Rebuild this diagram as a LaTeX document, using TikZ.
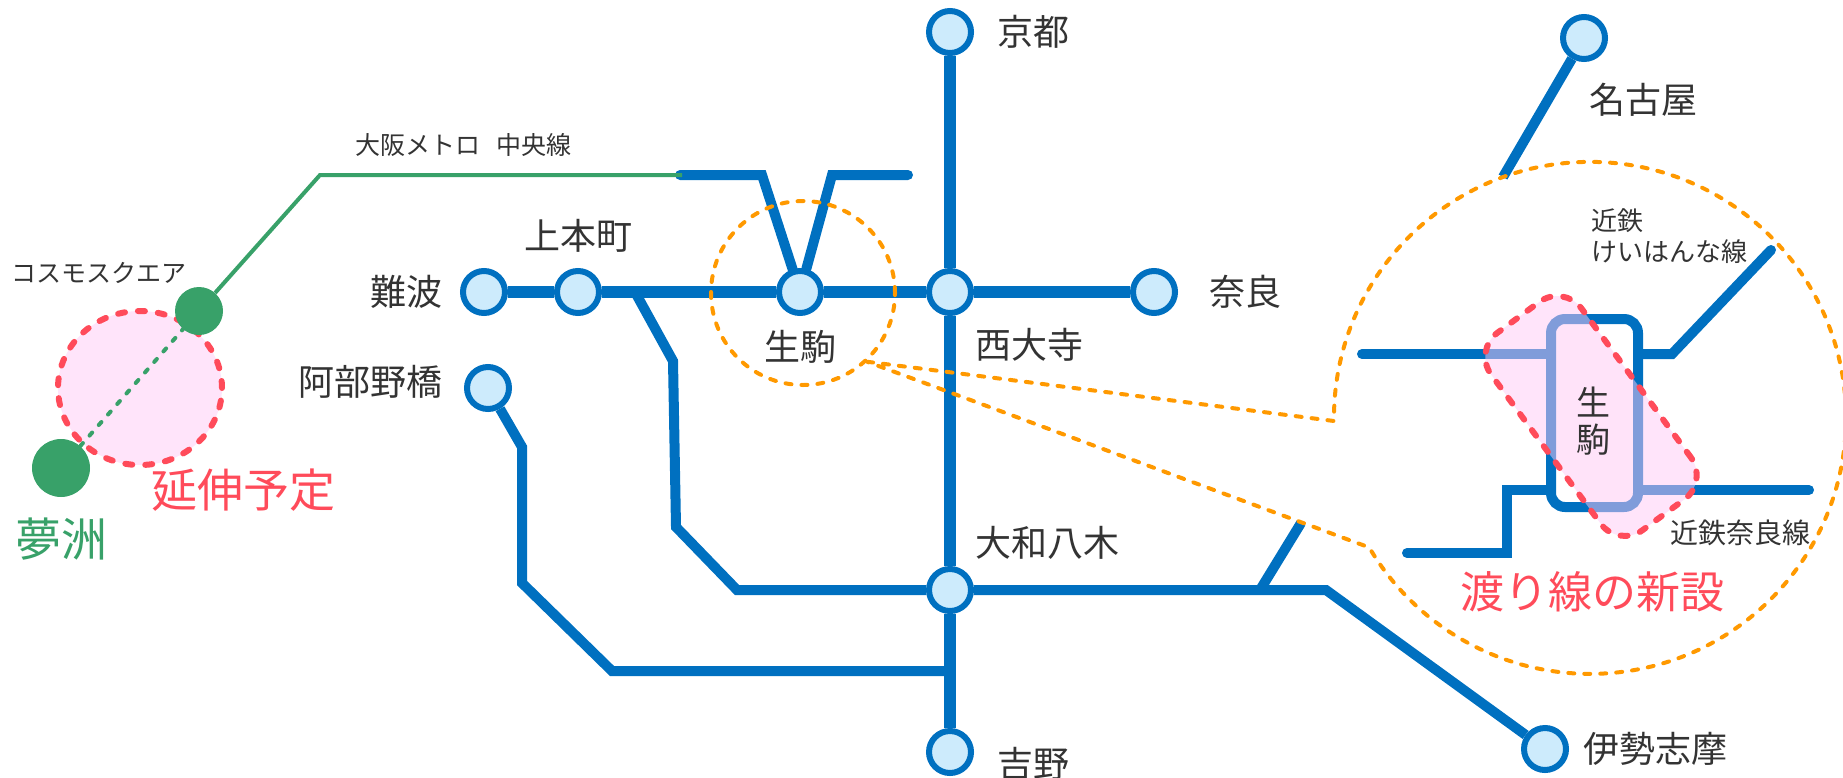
\documentclass[tikz,border=0pt]{standalone}
\usepackage{fontspec}
\setmainfont{Noto Sans CJK JP}
\usetikzlibrary{positioning,shapes.geometric}
\definecolor{metro}{RGB}{0,112,192}
\definecolor{stnfill}{RGB}{205,235,252}
\definecolor{ink}{RGB}{51,51,51}
\definecolor{chuo}{RGB}{56,161,105}
\definecolor{plan}{RGB}{255,75,90}
\definecolor{planfill}{RGB}{255,228,250}
\definecolor{crossfill}{RGB}{255,201,245}
\definecolor{zoomline}{RGB}{255,153,0}
\begin{document}
\begin{tikzpicture}[x=1pt, y=1pt,
    stn/.style={circle, draw=metro, fill=stnfill, line width=6pt, minimum size=42pt, inner sep=0pt},
    rail/.style={draw=metro, line width=10pt},
    mainrail/.style={draw=metro, line width=11.5pt},
    lbl/.style={text=ink, inner sep=0pt, font=\fontsize{36}{42}\selectfont},
    smalllbl/.style={text=ink, inner sep=0pt, font=\fontsize{25}{31}\selectfont, align=left},
    biglbl/.style={inner sep=0pt, font=\fontsize{46}{52}\selectfont},
    zoomed/.style={draw=zoomline, line width=4pt, line cap=round, dash pattern=on 6pt off 10pt},
    planned/.style={draw=plan, line width=6pt, line cap=round, dash pattern=on 7pt off 13pt}]
    \useasboundingbox (0,0) rectangle (1843,-777);
    \node(Kyo) [stn] at (950,-32) {};
    \node(Nam) [stn] at (484,-292) {};
    \node(Ue) [stn] at (578,-292) {};
    \node(Iko) [stn] at (800,-292) {};
    \node(Sai) [stn] at (950,-292) {};
    \node(Nar) [stn] at (1154,-292) {};
    \node(Abe) [stn] at (488,-388) {};
    \node(Yag) [stn] at (950,-590) {};
    \node(Yos) [stn] at (950,-752) {};
    \node(Nag) [stn] at (1584,-38) {};
    \node(Ise) [stn] at (1545,-749) {};
    \draw[mainrail] (Kyo) -- (Sai) -- (Yag) -- (Yos);
    \draw[mainrail] (Nam) -- (Ue) -- (Iko) -- (Sai) -- (Nar);
    \draw[rail] (635,-292) -- (673,-361) -- (676,-527) -- (737,-590) -- (Yag);
    \draw[rail] (Abe) -- (522,-447) -- (522,-583) -- (612,-671) -- (946,-671);
    \draw[rail] (Yag) -- (1326,-590) -- (Ise);
    \draw[rail] (1260,-590) -- (1301,-523);
    \draw[rail] (Nag) -- (1503,-177);
    \draw[rail, line cap=round] (680,-175) -- (762,-175) -- (Iko);
    \draw[rail, line cap=round] (Iko) -- (832,-175) -- (908,-175);
    \node(KyoL) [lbl, right=23pt of Kyo] {京都};
    \node(NamL) [lbl, left=17pt of Nam] {難波};
    \node(UeL) [lbl, above=15pt of Ue] {上本町};
    \node(IkoL) [lbl, below=14pt of Iko] {生駒};
    \node(SaiL) [lbl, below right=19pt and 8pt of Sai] {西大寺};
    \node(NarL) [lbl, right=31pt of Nar] {奈良};
    \node(AbeL) [lbl, left=21pt of Abe, yshift=6pt] {阿部野橋};
    \node(YagL) [lbl, above right=13pt and 8pt of Yag] {大和八木};
    \node(YosL) [lbl, right=23pt of Yos, yshift=-12pt] {吉野};
    \node(NagL) [lbl, anchor=west] at (1589,-100) {名古屋};
    \node(IseL) [lbl, right=14pt of Ise] {伊勢志摩};
    \node(Ext) [ellipse, fill=planfill, planned, minimum width=164pt, minimum height=154pt] at (140,-388) {};
    \node(Cos) [circle, fill=chuo, minimum size=48pt] at (199,-311) {};
    \node(Yum) [circle, fill=chuo, minimum size=58pt] at (61,-468) {};
    \draw[chuo, line width=4pt, line cap=round, dash pattern=on 4pt off 10pt] (Yum) -- (Cos);
    \draw[chuo, line width=4pt] (Cos) -- (320,-175) -- (682,-175);
    \node(ChuoL) [smalllbl, anchor=west] at (355,-145) {大阪メトロ\hspace{16pt}中央線};
    \node(CosL) [smalllbl, anchor=west] at (11,-273) {コスモスクエア};
    \node(YumL) [biglbl, text=chuo, below=20pt of Yum] {夢洲};
    \node(PlanL) [biglbl, text=plan, anchor=west] at (151,-490) {延伸予定};
    \node(Ring) [circle, zoomed, minimum size=184pt] at (803,-293) {};
    \draw[zoomed] (Ring.-47.6) -- (1334,-421) arc[start angle=180.7, end angle=-149.6, radius=256] -- cycle;
    \node(IkoBox) [draw=metro, fill=white, line width=10pt, rounded corners=14pt, minimum width=87pt, minimum height=188pt] at (1594.5,-413) {};
    \coordinate (KL) at (1362,-354);
    \coordinate (KR) at (1771,-250);
    \coordinate (NL) at (1407,-553);
    \coordinate (NR) at (1809,-490);
    \draw[rail, line cap=round] (KL) -- (KL -| IkoBox.west);
    \draw[rail, line cap=round] (KL -| IkoBox.east) -- (1672,-354) -- (KR);
    \draw[rail, line cap=round] (IkoBox.east |- NR) -- (NR);
    \draw[rail, line cap=round] (NL) -- (1507,-553) -- (1507,-490) -- (IkoBox.west |- NR);
    \node(Cross) [rounded corners=30pt, fill=crossfill, fill opacity=0.5, planned, minimum width=245pt, minimum height=112pt, rotate=-53.7] at (1591,-416) {};
    \node(IkoT) [lbl, align=center, font=\fontsize{34}{37}\selectfont] at (1593,-421) {生\\駒};
    \node(KeiL) [smalllbl, font=\fontsize{26}{31}\selectfont, anchor=north west] at (1591,-208) {近鉄\\けいはんな線};
    \node(NaraLine) [smalllbl, font=\fontsize{28}{32}\selectfont, anchor=west] at (1670,-533) {近鉄奈良線};
    \node(CrossL) [biglbl, text=plan, font=\fontsize{44}{50}\selectfont] at (1592,-592) {渡り線の新設};
\end{tikzpicture}
\end{document}
